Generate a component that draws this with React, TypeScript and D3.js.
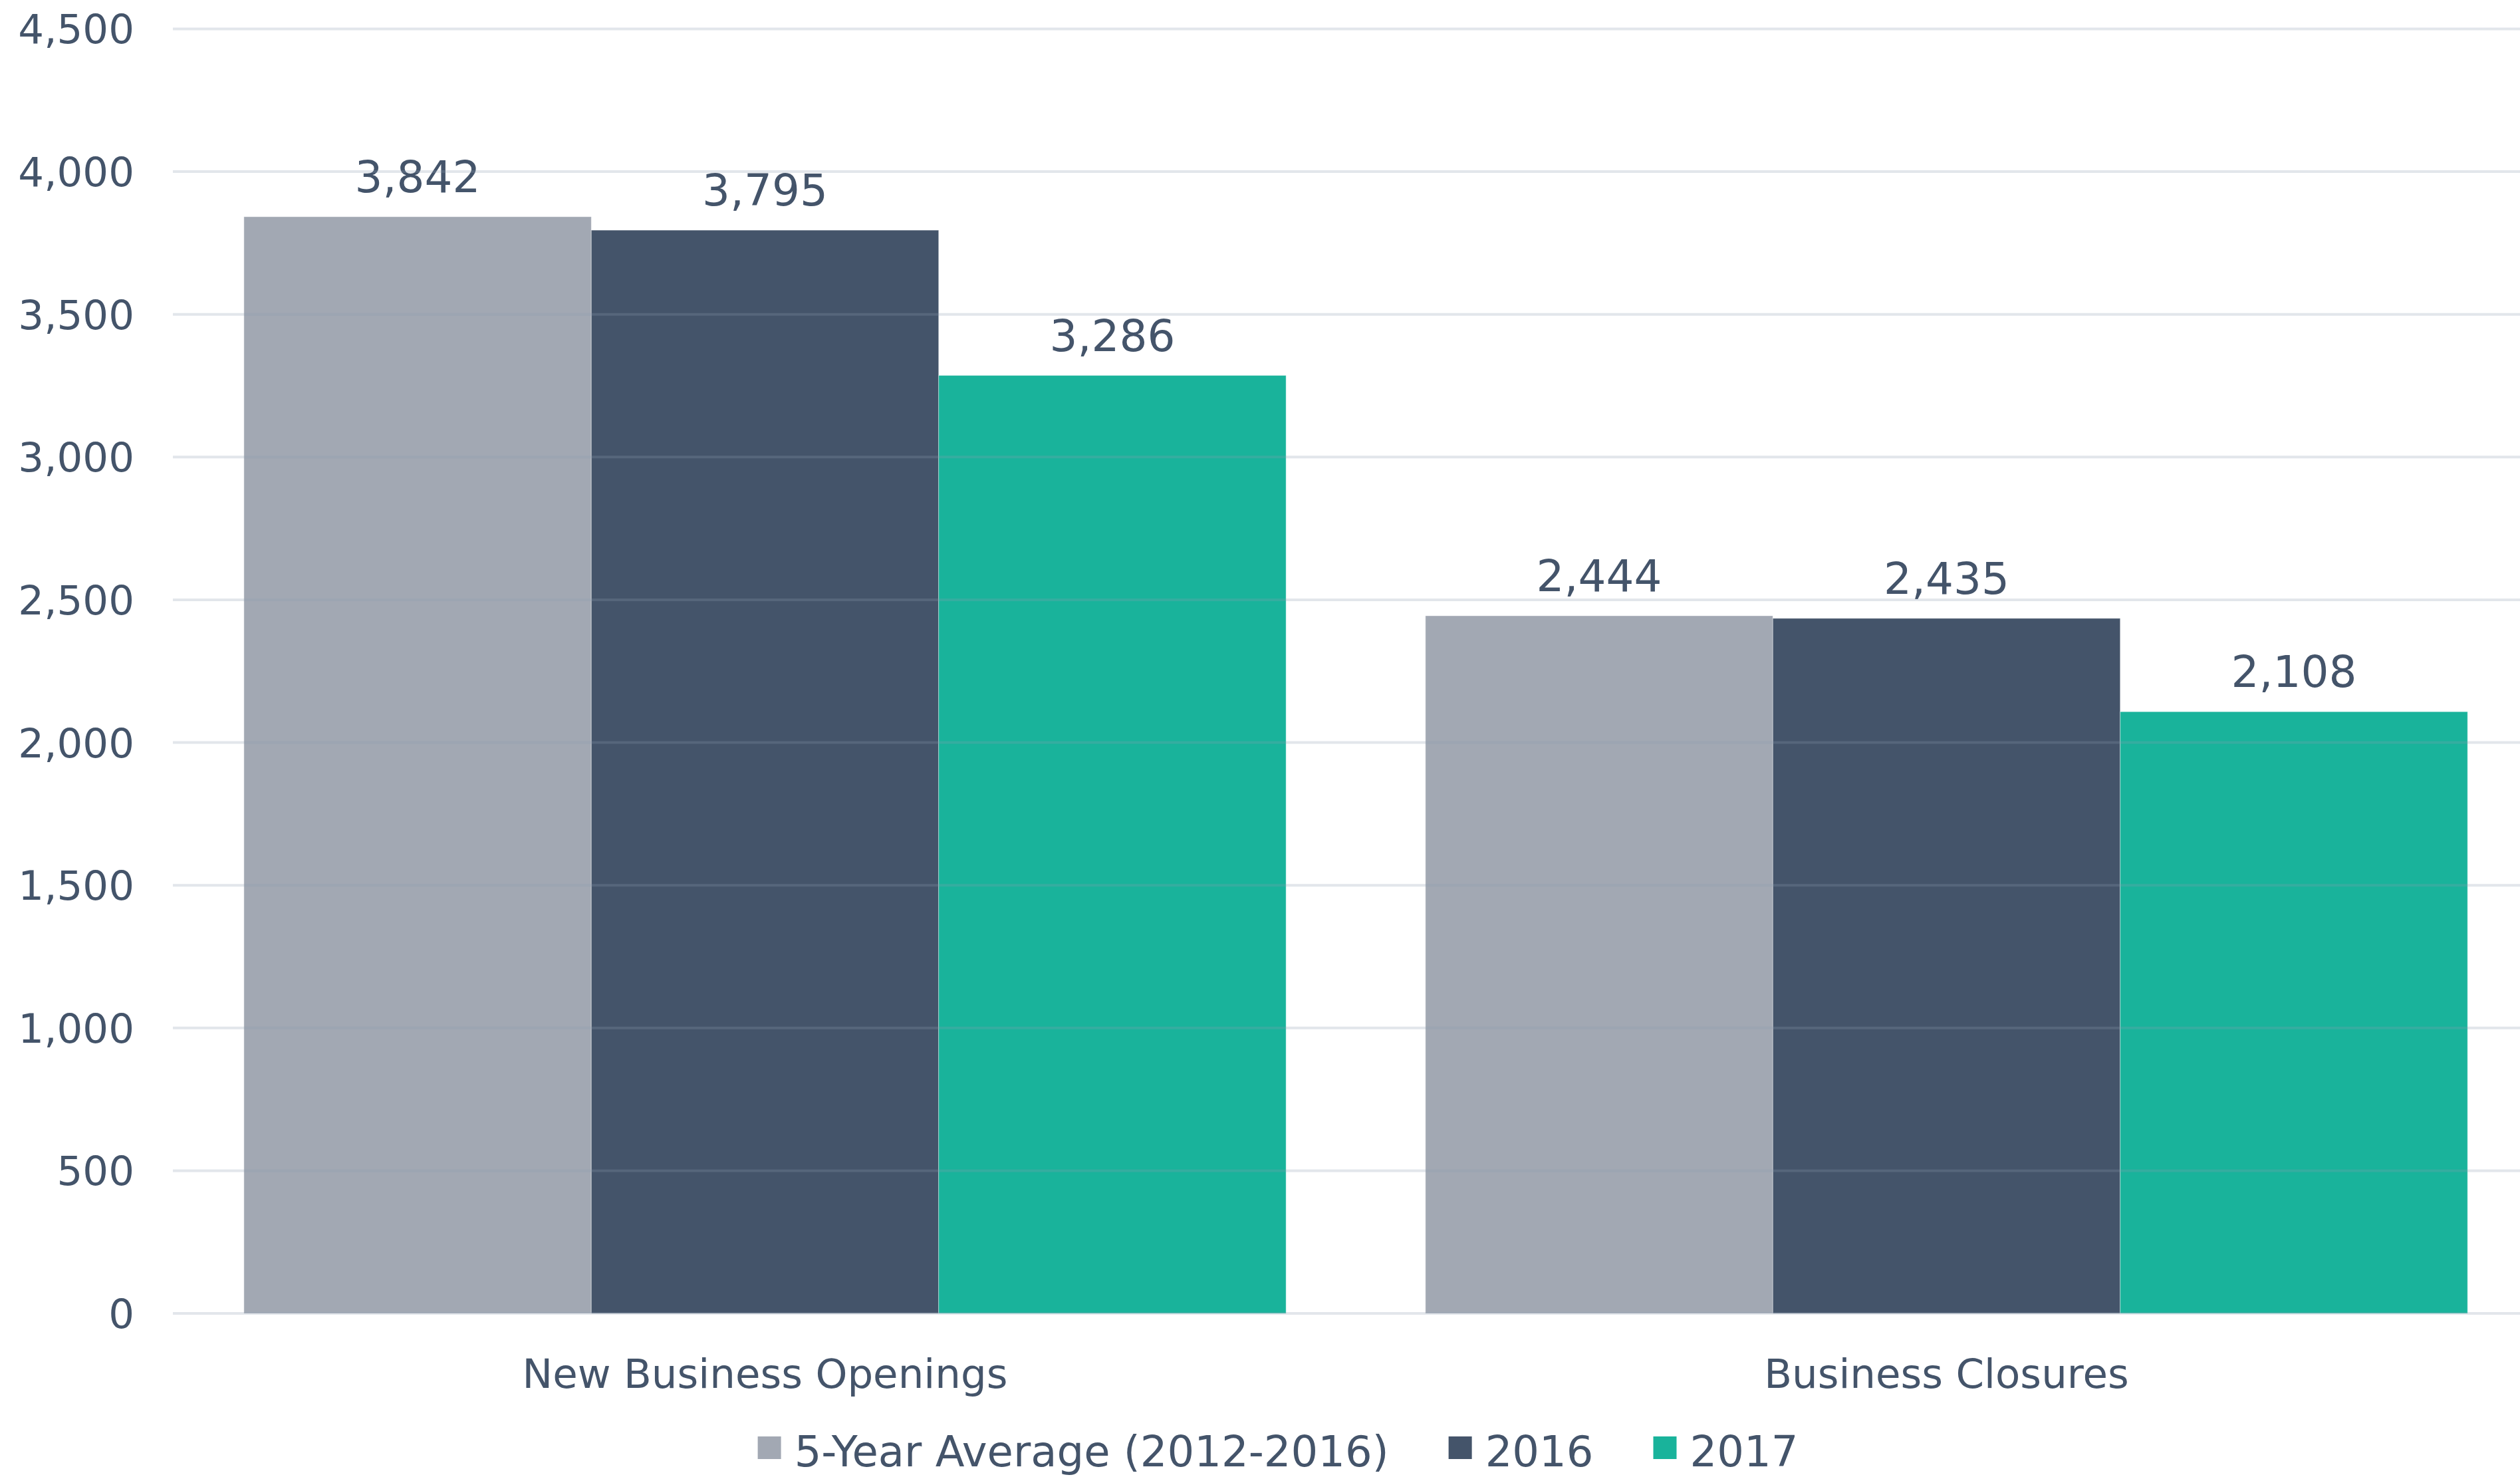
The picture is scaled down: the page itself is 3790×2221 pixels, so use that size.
import React, { useEffect, useRef } from 'react';
import * as d3 from 'd3';

// chart data
const categories: string[] = ['New Business Openings', 'Business Closures'];
const seriesNames: string[] = ['5-Year Average (2012-2016)', '2016', '2017'];
const avgValues: number[] = [3842, 2444];
const values2016: number[] = [3795, 2435];
const values2017: number[] = [3286, 2108];
const yTicks: number[] = [0, 500, 1000, 1500, 2000, 2500, 3000, 3500, 4000, 4500];
const seriesColors: string[] = ['#a2a8b3', '#44546a', '#19b39b'];

const W = 3790;
const H = 2221;
const FONT = '"DejaVu Sans", Verdana, sans-serif';
const TEXT = '#44546a';

const App: React.FC = () => {
  const svgRef = useRef<SVGSVGElement>(null);

  useEffect(() => {
    document.body.style.margin = '0';
    if (!svgRef.current) return;
    const svg = d3.select(svgRef.current);
    svg.selectAll('*').remove();

    const series = [avgValues, values2016, values2017];

    const x0 = d3.scaleBand<string>()
      .domain(categories)
      .range([262, 3816])
      .paddingInner(0.118)
      .paddingOuter(0.059);

    const x1 = d3.scaleBand<string>()
      .domain(seriesNames)
      .range([0, x0.bandwidth()]);

    const y = d3.scaleLinear().domain([0, 4500]).range([1975, 43.5]);

    // bars
    const groups = svg.append('g')
      .selectAll('g')
      .data(categories)
      .enter()
      .append('g')
      .attr('transform', d => `translate(${x0(d)},0)`);

    groups.selectAll('rect')
      .data((_, ci) => seriesNames.map((s, si) => ({ s, si, v: series[si][ci] })))
      .enter()
      .append('rect')
      .attr('x', d => x1(d.s)!)
      .attr('width', x1.bandwidth())
      .attr('y', d => y(d.v))
      .attr('height', d => y(0) - y(d.v))
      .attr('fill', d => seriesColors[d.si])
      .attr('stroke', '#ffffff')
      .attr('stroke-opacity', 0.4)
      .attr('stroke-width', 1);

    // gridlines (drawn over bars, semi-transparent)
    svg.append('g')
      .selectAll('line')
      .data(yTicks)
      .enter()
      .append('line')
      .attr('x1', 260)
      .attr('x2', W)
      .attr('y1', d => y(d))
      .attr('y2', d => y(d))
      .attr('stroke', '#8a9ab0')
      .attr('stroke-opacity', 0.25)
      .attr('stroke-width', 4);

    // y tick labels
    svg.append('g')
      .selectAll('text')
      .data(yTicks)
      .enter()
      .append('text')
      .attr('x', 202)
      .attr('y', d => y(d))
      .attr('dy', '0.36em')
      .attr('text-anchor', 'end')
      .attr('font-family', FONT)
      .attr('font-size', 61)
      .attr('fill', TEXT)
      .text(d => d3.format(',')(d));

    // value labels
    groups.selectAll('text')
      .data((_, ci) => seriesNames.map((s, si) => ({ s, si, v: series[si][ci] })))
      .enter()
      .append('text')
      .attr('x', d => x1(d.s)! + x1.bandwidth() / 2)
      .attr('y', d => y(d.v) - 37)
      .attr('text-anchor', 'middle')
      .attr('font-family', FONT)
      .attr('font-size', 66)
      .attr('fill', TEXT)
      .text(d => d3.format(',')(d.v));

    // category labels
    svg.append('g')
      .selectAll('text')
      .data(categories)
      .enter()
      .append('text')
      .attr('x', d => x0(d)! + x0.bandwidth() / 2)
      .attr('y', 2087)
      .attr('text-anchor', 'middle')
      .attr('font-family', FONT)
      .attr('font-size', 61)
      .attr('fill', TEXT)
      .text(d => d);

    // legend
    const legend = svg.append('g');
    const items = legend.selectAll('g')
      .data(seriesNames)
      .enter()
      .append('g');
    items.append('rect')
      .attr('y', 2160)
      .attr('width', 35)
      .attr('height', 34)
      .attr('fill', (_, i) => seriesColors[i]);
    items.append('text')
      .attr('x', 55)
      .attr('y', 2205)
      .attr('font-family', FONT)
      .attr('font-size', 64)
      .attr('fill', TEXT)
      .text(d => d);

    let offset = 0;
    const widths: number[] = [];
    items.each(function () {
      const t = d3.select(this).select('text').node() as SVGTextElement;
      widths.push(55 + t.getComputedTextLength());
    });
    const gap = 90;
    const total = d3.sum(widths) + gap * (widths.length - 1);
    const startX = 1922 - total / 2;
    items.attr('transform', (_, i) => {
      const tx = startX + offset;
      offset += widths[i] + gap;
      return `translate(${tx},0)`;
    });
  }, []);

  return (
    <svg
      ref={svgRef}
      width={W}
      height={H}
      style={{ display: 'block', background: '#ffffff' }}
    />
  );
};

export default App;
